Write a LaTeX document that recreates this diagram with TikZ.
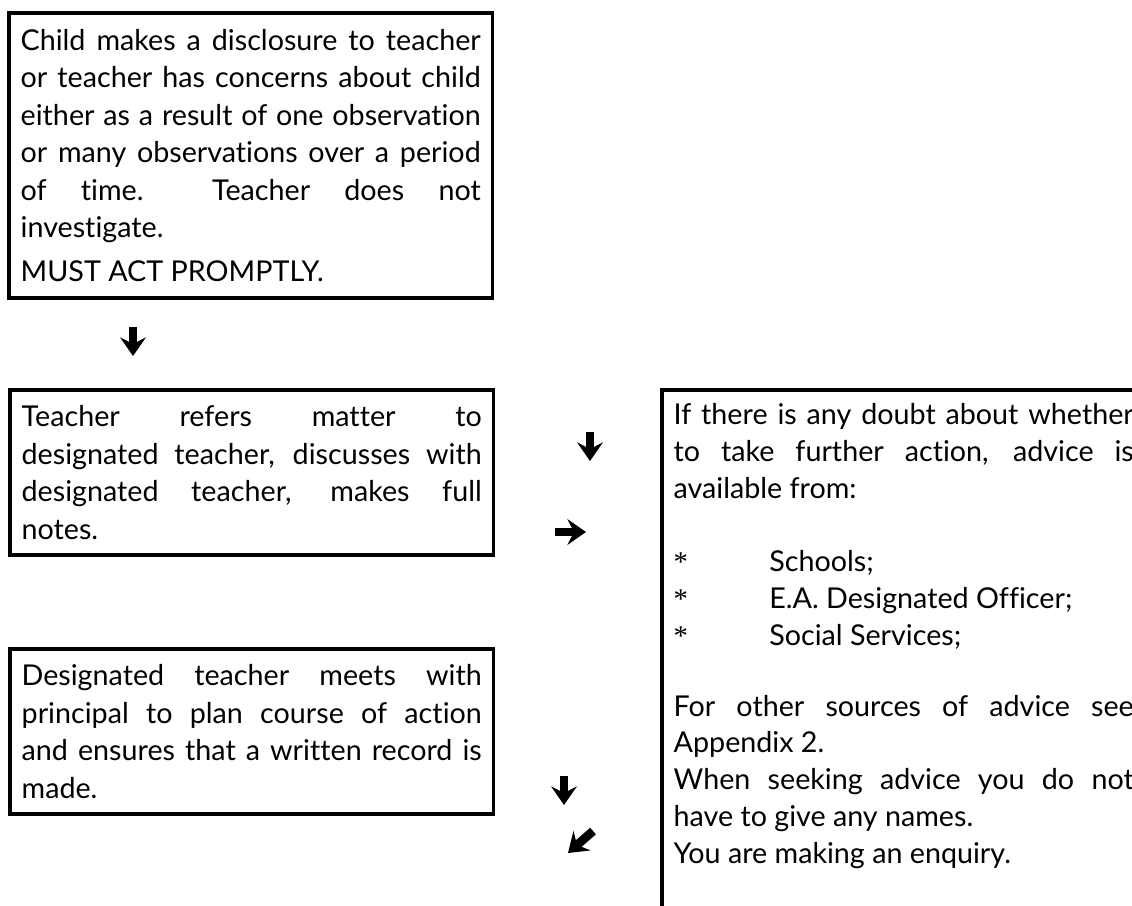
\documentclass[tikz,border=0pt]{standalone}
\usepackage{fontspec}
\setmainfont{Lato}[Ligatures=NoCommon]
\newfontfamily\astfont{Liberation Serif}
\usetikzlibrary{arrows.meta}

% one unit = one pixel of the page, y running down
\tikzset{
    box/.style={draw, line width=1.4pt, anchor=north west, align=justify,
        text width=168.4pt, inner xsep=4.3pt, inner ysep=0pt,
        font=\fontsize{10.5pt}{13.7pt}\selectfont},
    glyph/.style={line width=3.2pt, -{Stealth[width=9.4pt, length=6.8pt, inset=2.4pt]}}
}
\newcommand\starbullet{\makebox[35pt][l]{\astfont *}}

\begin{document}
\begin{tikzpicture}[x=0.366pt, y=-0.366pt]
    \useasboundingbox (0,0) rectangle (1132,905);
    \clip (0,0) rectangle (1132,905);

    \node[box, minimum height=104.3pt] (child) at (7,11)
        {Child makes a disclosure to teacher\linebreak
        or teacher has concerns about child\linebreak
        either as a result of one observation\linebreak
        or many observations over a period\linebreak
        of time.\ \ Teacher does not\linebreak
        investigate.\\[2.2pt]
        MUST ACT PROMPTLY.\par\vspace{5pt}};

    \node[box, minimum height=60.4pt] (refer) at (8,388)
        {Teacher refers matter to\linebreak
        designated teacher, discusses with\linebreak
        designated teacher, makes full\linebreak
        notes.};

    \node[box, minimum height=60.4pt] (meet) at (8,647)
        {Designated teacher meets with\linebreak
        principal to plan course of action\linebreak
        and ensures that a written record is\linebreak
        made.};

    % right hand box runs off the page
    \node[box, inner ysep=5pt, font=\fontsize{10.5pt}{13.45pt}\selectfont] (advice) at (660,388)
        {If there is any doubt about whether\linebreak
        to take further action, advice is\linebreak
        available from:\\[13.45pt]
        \starbullet Schools;\\
        \starbullet E.A. Designated Officer;\\
        \starbullet Social Services;\\[12.5pt]
        For other sources of advice see\linebreak
        Appendix 2.\\
        When seeking advice you do not\linebreak
        have to give any names.\\
        You are making an enquiry.\\[40pt]\mbox{}};

    % arrow glyphs
    \coordinate (p1) at (133,327);
    \coordinate (q1) at (133,356);
    \coordinate (p2) at (590,432);
    \coordinate (q2) at (590,461);
    \coordinate (p3) at (555,532);
    \coordinate (q3) at (586,532);
    \coordinate (p4) at (564,776);
    \coordinate (q4) at (564,805);
    \coordinate (p5) at (593,831);
    \coordinate (q5) at (568,853);
    \draw[glyph] (p1) -- (q1);
    \draw[glyph] (p2) -- (q2);
    \draw[glyph] (p3) -- (q3);
    \draw[glyph] (p4) -- (q4);
    \draw[glyph] (p5) -- (q5);
\end{tikzpicture}
\end{document}
